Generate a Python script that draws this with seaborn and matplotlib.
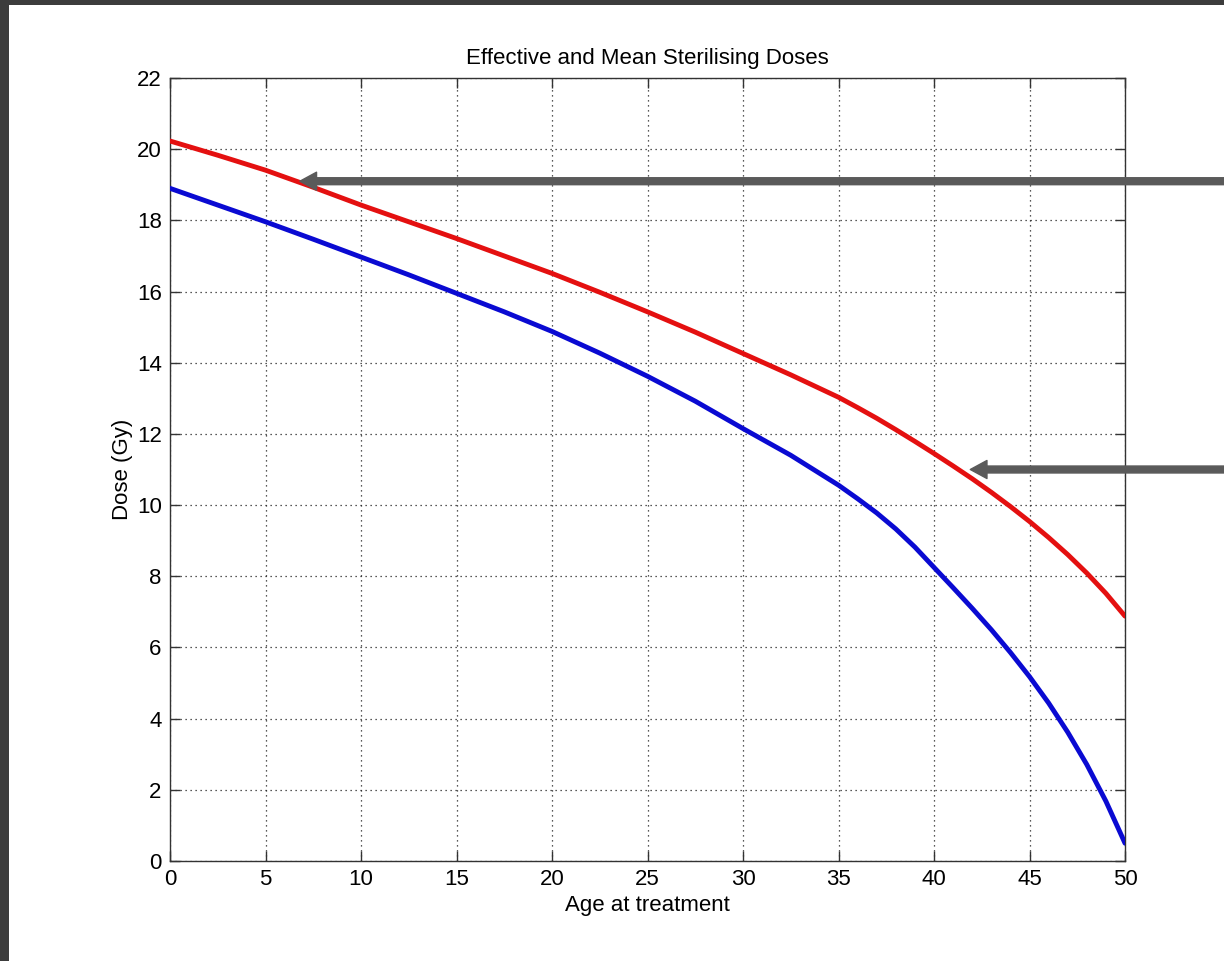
import numpy as np
import pandas as pd
import matplotlib
matplotlib.use("Agg")
import matplotlib.pyplot as plt
from matplotlib.patches import Rectangle
import seaborn as sns

# ---- data ----
age = [0, 2.5, 5, 7.5, 10, 12.5, 15, 17.5, 20, 22.5, 25, 27.5, 30, 32.5,
       35, 36, 37, 38, 39, 40, 41, 42, 43, 44, 45, 46, 47, 48, 49, 50]
effective_dose = [20.23, 19.83, 19.41, 18.93, 18.43, 17.96, 17.49, 17.0, 16.51,
                  15.98, 15.43, 14.86, 14.26, 13.66,
                  13.03, 12.74, 12.44, 12.12, 11.79, 11.45, 11.1, 10.74, 10.36,
                  9.96, 9.54, 9.09, 8.61, 8.09, 7.52, 6.88]
mean_dose = [18.9, 18.43, 17.96, 17.47, 16.97, 16.47, 15.95, 15.43, 14.88,
             14.27, 13.62, 12.92, 12.15, 11.4,
             10.56, 10.18, 9.78, 9.33, 8.82, 8.25, 7.68, 7.10, 6.50, 5.86,
             5.18, 4.44, 3.62, 2.71, 1.68, 0.5]
series_names = ["Effective", "Mean"]
xticks = [0, 5, 10, 15, 20, 25, 30, 35, 40, 45, 50]
yticks = [0, 2, 4, 6, 8, 10, 12, 14, 16, 18, 20, 22]
arrow_targets_x = [6.8, 41.9]
arrow_targets_y = [19.1, 11.0]

df = pd.DataFrame({
    "Age at treatment": age * 2,
    "Dose (Gy)": effective_dose + mean_dose,
    "series": [series_names[0]] * len(age) + [series_names[1]] * len(age),
})

sns.set_theme(style="white")
plt.rcParams["font.family"] = ["Liberation Sans", "DejaVu Sans"]

fig = plt.figure(figsize=(12.24, 9.61), dpi=100)
fig.patch.set_facecolor("#3c3c3c")
fig.patches.append(Rectangle((9 / 1224, 0), 1, 1 - 5 / 961, transform=fig.transFigure,
                             facecolor="white", edgecolor="none", zorder=-10))

ax = fig.add_axes([170 / 1224, 1 - 861 / 961, (1125 - 170) / 1224, (861 - 78) / 961])
ax.set_facecolor("white")

sns.lineplot(data=df, x="Age at treatment", y="Dose (Gy)", hue="series",
             palette={"Effective": "#e41010", "Mean": "#0a0ad2"},
             linewidth=3.5, legend=False, ax=ax, zorder=3)

ax.set_xlim(0, 50)
ax.set_ylim(0, 22)
ax.set_xticks(xticks)
ax.set_yticks(yticks)
ax.set_xticklabels([str(t) for t in xticks])
ax.set_yticklabels([str(t) for t in yticks])

ax.grid(True, color="#222222", linestyle=(0, (1, 3)), linewidth=0.9)
for s in ax.spines.values():
    s.set_visible(True)
    s.set_color("#333333")
    s.set_linewidth(1.0)
ax.tick_params(direction="in", length=7.5, width=1.0, color="#333333",
               top=True, right=True, bottom=True, left=True,
               labelsize=16, labelcolor="black", pad=6)

ax.set_xlabel("Age at treatment", fontsize=16, color="black", labelpad=3)
ax.set_ylabel("Dose (Gy)", fontsize=16, color="black", labelpad=3)
ax.set_title("Effective and Mean Sterilising Doses", fontsize=16, color="black", pad=10)

for tx, ty in zip(arrow_targets_x, arrow_targets_y):
    ax.annotate("", xy=(tx, ty), xycoords="data",
                xytext=(1.0, ty), textcoords=("figure fraction", "data"),
                arrowprops=dict(width=5, headwidth=13, headlength=12, shrink=0,
                                facecolor="#5a5a5a", edgecolor="#5a5a5a",
                                clip_on=False),
                annotation_clip=False, zorder=5)

fig.savefig("out.png", dpi=100, facecolor=fig.get_facecolor())
